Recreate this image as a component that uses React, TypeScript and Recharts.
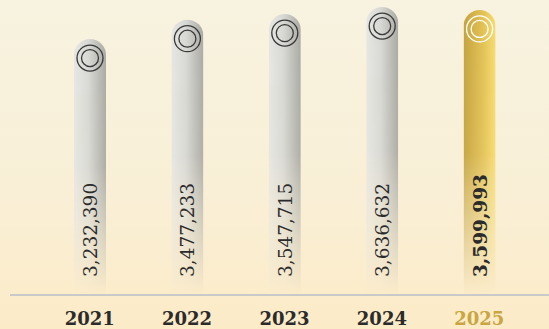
import React from "react";
import { BarChart, Bar, XAxis, YAxis, LabelList } from "recharts";

const years = ["2021", "2022", "2023", "2024", "2025"];
const visitors = [3232390, 3477233, 3547715, 3636632, 3599993];
const highlightYear = "2025";

const data = years.map((year, i) => ({ year, value: visitors[i] }));

const FONT = "'DejaVu Serif', serif";
const GOLD_TEXT = "#c9a640";

const PillBar = (props: any) => {
  const { x, y, width, height, payload } = props;
  if (!height || height <= 0) return null;
  const hot = payload.year === highlightYear;
  const r = width / 2;
  const cx = x + r;
  const cy = y + r + 3;
  const d = `M${x},${y + height} L${x},${y + r} A${r},${r} 0 0 1 ${x + width},${y + r} L${x + width},${y + height} Z`;
  const ring = hot ? "#ffffff" : "#383838";
  return (
    <g>
      <path d={d} fill={hot ? "url(#goldFill)" : "url(#grayFill)"} mask="url(#fadeMask)" />
      <circle cx={cx} cy={cy} r={13} fill="none" stroke={ring} strokeWidth={1.3} />
      <circle cx={cx} cy={cy} r={8.5} fill="none" stroke={ring} strokeWidth={1.3} />
    </g>
  );
};

const ValueLabel = (props: any) => {
  const { x, y, width, height, value, index } = props;
  const hot = years[index] === highlightYear;
  const cx = x + width / 2 + 7;
  const by = y + height - 18;
  return (
    <text
      x={cx}
      y={by}
      transform={`rotate(-90 ${cx} ${by})`}
      textAnchor="start"
      fontFamily={FONT}
      fontSize={18.5}
      fontWeight={hot ? 700 : 400}
      fill="#2b2b2b"
    >
      {value.toLocaleString("en-US")}
    </text>
  );
};

const YearTick = (props: any) => {
  const { x, y, payload } = props;
  const hot = payload.value === highlightYear;
  return (
    <text
      x={x}
      y={y + 22}
      textAnchor="middle"
      fontFamily={FONT}
      fontSize={18}
      fontWeight={700}
      fill={hot ? GOLD_TEXT : "#2b2b2b"}
    >
      {payload.value}
    </text>
  );
};

export default function App() {
  return (
    <div
      style={{
        position: "absolute",
        left: 0,
        top: 0,
        width: 549,
        height: 329,
        background: "linear-gradient(180deg, #f7f3e0 0%, #f9efd6 60%, #fcebc7 100%)",
        overflow: "hidden",
      }}
    >
      <BarChart
        width={549}
        height={329}
        data={data}
        margin={{ top: 6, right: 0, bottom: 4, left: 10 }}
        barSize={32}
      >
        <defs>
          <linearGradient id="grayFill" x1="0" y1="0" x2="1" y2="0">
            <stop offset="0%" stopColor="#e6e6e2" />
            <stop offset="45%" stopColor="#d8d8d4" />
            <stop offset="100%" stopColor="#aaaaa4" />
          </linearGradient>
          <linearGradient id="goldFill" x1="0" y1="0" x2="1" y2="0">
            <stop offset="0%" stopColor="#c4a33e" />
            <stop offset="60%" stopColor="#e2c155" />
            <stop offset="100%" stopColor="#f7dc70" />
          </linearGradient>
          <linearGradient id="fadeGrad" x1="0" y1="0" x2="0" y2="1">
            <stop offset="0%" stopColor="#fff" stopOpacity={1} />
            <stop offset="50%" stopColor="#fff" stopOpacity={0.95} />
            <stop offset="100%" stopColor="#fff" stopOpacity={0} />
          </linearGradient>
          <mask id="fadeMask" maskUnits="objectBoundingBox" maskContentUnits="objectBoundingBox">
            <rect x="0" y="0" width="1" height="1" fill="url(#fadeGrad)" />
          </mask>
        </defs>
        <XAxis
          dataKey="year"
          axisLine={{ stroke: "#c9c9c9", strokeWidth: 2 }}
          tickLine={false}
          tick={<YearTick />}
          height={30}
          padding={{ left: 31, right: 21 }}
          interval={0}
        />
        <YAxis hide domain={[0, 3650000]} />
        <Bar dataKey="value" shape={<PillBar />} isAnimationActive={false}>
          <LabelList dataKey="value" content={<ValueLabel />} />
        </Bar>
      </BarChart>
    </div>
  );
}
